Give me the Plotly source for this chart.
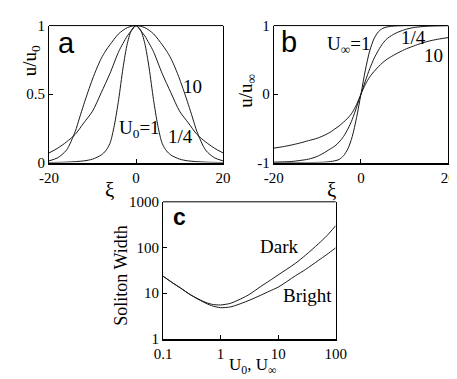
import plotly.graph_objects as go

W, H = 457, 379

# ---------------- Panel a : bright solitons u/u0 vs xi ----------------
a_x_U1 = [-20, -16, -12, -10, -8, -7, -6, -5, -4, -3, -2, -1, 0, 1, 2, 3, 4, 5, 6, 7, 8, 10, 12, 16, 20]
a_y_U1 = [0.0, 0.003, 0.012, 0.025, 0.055, 0.085, 0.14, 0.27, 0.46, 0.69, 0.87, 0.97, 1.0,
          0.97, 0.87, 0.69, 0.46, 0.27, 0.14, 0.085, 0.055, 0.025, 0.012, 0.003, 0.0]

a_x_U14 = [-20, -18, -16, -14, -12, -10, -8, -6, -4, -3, -2, -1, 0, 1, 2, 3, 4, 6, 8, 10, 12, 14, 16, 18, 20]
a_y_U14 = [0.07, 0.105, 0.15, 0.205, 0.29, 0.375, 0.51, 0.65, 0.81, 0.87, 0.925, 0.965, 1.0,
           0.965, 0.925, 0.87, 0.81, 0.65, 0.51, 0.375, 0.29, 0.205, 0.15, 0.105, 0.07]

a_x_U10 = [-20, -18, -16, -14, -13, -12, -11, -10, -9, -8, -7, -6, -4, -2, 0,
           2, 4, 6, 7, 8, 9, 10, 11, 12, 13, 14, 16, 18, 20]
a_y_U10 = [0.012, 0.035, 0.09, 0.225, 0.325, 0.425, 0.52, 0.61, 0.69, 0.76, 0.815, 0.86, 0.94, 0.985, 1.0,
           0.985, 0.94, 0.86, 0.815, 0.76, 0.69, 0.61, 0.52, 0.425, 0.325, 0.225, 0.09, 0.035, 0.012]

# ---------------- Panel b : dark solitons u/u_inf vs xi ----------------
b_x = [-20, -18, -16, -14, -12, -10, -8, -7, -6, -5, -4, -3, -2, -1, 0,
       1, 2, 3, 4, 5, 6, 7, 8, 10, 12, 14, 16, 18, 20]
b_y_U1 = [-1.0, -1.0, -1.0, -1.0, -1.0, -0.998, -0.993, -0.985, -0.975, -0.955, -0.9, -0.8, -0.62, -0.34, 0.0,
          0.35, 0.63, 0.81, 0.91, 0.96, 0.98, 0.99, 0.995, 1.0, 1.0, 1.0, 1.0, 1.0, 1.0]
b_y_U14 = [-0.995, -0.99, -0.985, -0.97, -0.95, -0.91, -0.84, -0.8, -0.76, -0.7, -0.62, -0.51, -0.37, -0.19, 0.0,
           0.19, 0.37, 0.52, 0.64, 0.74, 0.81, 0.855, 0.89, 0.94, 0.97, 0.985, 0.993, 0.997, 1.0]
b_y_U10 = [-0.79, -0.77, -0.745, -0.715, -0.68, -0.645, -0.59, -0.555, -0.51, -0.465, -0.41, -0.35, -0.27, -0.15, 0.0,
           0.14, 0.25, 0.33, 0.40, 0.46, 0.51, 0.55, 0.585, 0.65, 0.70, 0.745, 0.78, 0.805, 0.825]

# ---------------- Panel c : soliton width vs amplitude ----------------
c_U = [0.1, 0.15, 0.2, 0.3, 0.5, 0.7, 1, 1.5, 2, 3, 5, 7, 10, 20, 30, 50, 70, 100]
c_bright = [23.5, 16.5, 13, 9.2, 6.4, 5.3, 4.8, 5.0, 5.6, 6.8, 9.0, 11, 13.5, 24, 33, 52, 70, 98]
c_dark = [23.5, 16.5, 13, 9.2, 6.6, 5.7, 5.5, 6.0, 7.0, 9.0, 14, 18.5, 25, 45, 68, 120, 180, 300]

# tick labels
a_xticks = [-20, 0, 20]
a_yticks = [0, 0.5, 1]
b_yticks = [-1, 0, 1]
c_ticks = [0.1, 1, 10, 100]
c_yticks = [1, 10, 100, 1000]

SERIF = "Liberation Serif"
SANS = "Liberation Sans"
LINE = dict(color="#1a1a1a", width=1, shape="spline", smoothing=0.8)

fig = go.Figure()
for xs, ys in [(a_x_U1, a_y_U1), (a_x_U14, a_y_U14), (a_x_U10, a_y_U10)]:
    fig.add_trace(go.Scatter(x=xs, y=ys, mode="lines", line=LINE, xaxis="x", yaxis="y", showlegend=False))
for ys in [b_y_U1, b_y_U14, b_y_U10]:
    fig.add_trace(go.Scatter(x=b_x, y=ys, mode="lines", line=LINE, xaxis="x2", yaxis="y2", showlegend=False))
for ys in [c_bright, c_dark]:
    fig.add_trace(go.Scatter(x=c_U, y=ys, mode="lines", line=LINE, xaxis="x3", yaxis="y3", showlegend=False))


def px(x):
    return x / W


def py(y):
    return 1 - y / H


tickfont = dict(family=SERIF, size=15, color="black")
common = dict(showgrid=False, zeroline=False, showline=True, linecolor="black",
              ticks="inside", ticklen=4, tickwidth=1, tickcolor="black", tickfont=tickfont)

fig.update_layout(
    width=W, height=H, margin=dict(l=0, r=0, t=0, b=0),
    paper_bgcolor="white", plot_bgcolor="white", showlegend=False,
    xaxis=dict(domain=[px(32.5), px(215)], range=[-20, 20], tickvals=a_xticks,
               ticktext=[str(v) for v in a_xticks], anchor="y", linewidth=2, mirror=False, **common),
    yaxis=dict(domain=[py(153), py(10)], range=[0, 1], tickvals=a_yticks,
               ticktext=["0", "0.5", "1"], anchor="x", linewidth=1, mirror=True, **common),
    xaxis2=dict(domain=[px(268), px(451)], range=[-20, 20], tickvals=a_xticks,
                ticktext=[str(v) for v in a_xticks], anchor="y2", linewidth=2, mirror=False, **common),
    yaxis2=dict(domain=[py(153), py(10)], range=[-1, 1], tickvals=b_yticks,
                ticktext=["-1", "0", "1"], anchor="x2", linewidth=1, mirror=True, **common),
    xaxis3=dict(domain=[px(152), px(333)], type="log", range=[-1, 2], tickvals=c_ticks,
                ticktext=["0.1", "1", "10", "100"], anchor="y3", linewidth=2, mirror=False, **common),
    yaxis3=dict(domain=[py(337), py(194)], type="log", range=[0, 3], tickvals=c_yticks,
                ticktext=["1", "10", "100", "1000"], anchor="x3", linewidth=1, mirror=True, **common),
)

# top frame lines
for xr, yr in [("x domain", "y domain"), ("x2 domain", "y2 domain"), ("x3 domain", "y3 domain")]:
    fig.add_shape(type="line", xref=xr, yref=yr, x0=0, x1=1, y0=1, y1=1,
                  line=dict(color="black", width=1))


def ann(text, x, y, size, family=SERIF, angle=0, xanchor="center"):
    fig.add_annotation(text=text, x=px(x), y=py(y), xref="paper", yref="paper",
                       showarrow=False, textangle=angle, xanchor=xanchor, yanchor="middle",
                       font=dict(family=family, size=size, color="black"))


# panel letters
ann("a", 40, 28, 29, SANS, xanchor="left")
ann("b", 274, 27, 29, SANS, xanchor="left")
ann("<b>c</b>", 160, 210, 23, SANS, xanchor="left")

# curve labels panel a
ann("10", 183, 74, 19)
ann("1/4", 170, 126, 19)
ann("U<sub>0</sub>=1", 127, 118, 19)
# curve labels panel b
ann("U<sub>∞</sub>=1", 346, 30, 19)
ann("1/4", 415, 22, 19)
ann("10", 436, 41, 19)
# curve labels panel c
ann("Dark", 274, 241, 19)
ann("Bright", 303, 292, 19)

# axis titles
ann("u/u<sub>0</sub>", 14, 47, 19, angle=-90)
ann("u/u<sub>∞</sub>", 240, 78, 19, angle=-90)
ann("ξ", 96, 182, 21)
ann("ξ", 329, 182, 21)
ann("Soliton Width", 107, 271, 18, angle=-90)
ann("U<sub>0</sub>, U<sub>∞</sub>", 246, 365, 17)

fig.write_html("out.html")
